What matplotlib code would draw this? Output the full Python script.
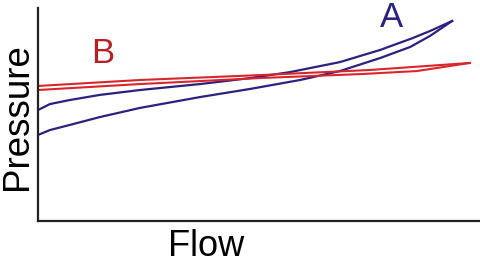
import matplotlib
matplotlib.use("Agg")
import matplotlib.pyplot as plt

# Curva A (azul): rama superior e inferior, se unen en la punta
a_top_flow = [0, 2.7, 7.2, 14.0, 23.1, 36.7, 48.0, 57.0, 68.3, 77.4, 84.8, 88.7, 93.7]
a_top_pres = [52.1, 54.9, 56.8, 59.2, 61.5, 64.3, 67.1, 69.9, 74.6, 80.3, 85.9, 89.2, 93.9]
a_bot_flow = [0, 2.7, 7.2, 14.0, 23.1, 36.7, 48.0, 59.3, 68.3, 77.4, 84.2, 88.7, 93.7]
a_bot_pres = [40.4, 42.7, 45.1, 48.8, 53.1, 58.2, 62.0, 66.2, 70.4, 76.5, 81.7, 86.9, 93.9]

# Curva B (roja): casi recta, dos ramas
b_top_flow = [0, 23.1, 50.2, 75.1, 97.7]
b_top_pres = [63.4, 66.2, 68.5, 70.9, 74.2]
b_bot_flow = [0, 23.1, 50.2, 73.3, 85.7, 97.7]
b_bot_pres = [61.5, 64.3, 67.1, 69.0, 70.4, 74.2]

blue = "#2a2180"
red = "#d9262b"
W, H = 480, 259

plt.rcParams['font.family'] = ['Liberation Sans', 'DejaVu Sans']
fig = plt.figure(figsize=(4.8, 2.59), dpi=100)
ax = fig.add_axes([38 / W, (H - 221) / H, 442 / W, 213 / H])

ax.plot(a_top_flow, a_top_pres, color=blue, lw=1.6, solid_joinstyle='round')
ax.plot(a_bot_flow, a_bot_pres, color=blue, lw=1.6, solid_joinstyle='round')
ax.plot(b_top_flow, b_top_pres, color=red, lw=1.5, solid_joinstyle='round')
ax.plot(b_bot_flow, b_bot_pres, color=red, lw=1.5, solid_joinstyle='round')

ax.set_xlim(0, 100)
ax.set_ylim(0, 100)
ax.set_xticks([])
ax.set_yticks([])
ax.spines['top'].set_visible(False)
ax.spines['right'].set_visible(False)
for s in ['left', 'bottom']:
    ax.spines[s].set_linewidth(1.6)
    ax.spines[s].set_color('#222222')

# Etiquetas
fig.text(27 / W, (H - 116.5) / H, 'Pressure', rotation=90, rotation_mode='anchor',
         ha='center', va='baseline', fontsize=26.5, color='black')
fig.text(206.5 / W, (H - 256) / H, 'Flow', ha='center', va='baseline',
         fontsize=26, color='black')
fig.text(392 / W, (H - 27) / H, 'A', ha='center', va='baseline',
         fontsize=25, color=blue)
fig.text(103 / W, (H - 63) / H, 'B', ha='center', va='baseline',
         fontsize=25, color='#b52025')

fig.savefig('out.png', dpi=100)
